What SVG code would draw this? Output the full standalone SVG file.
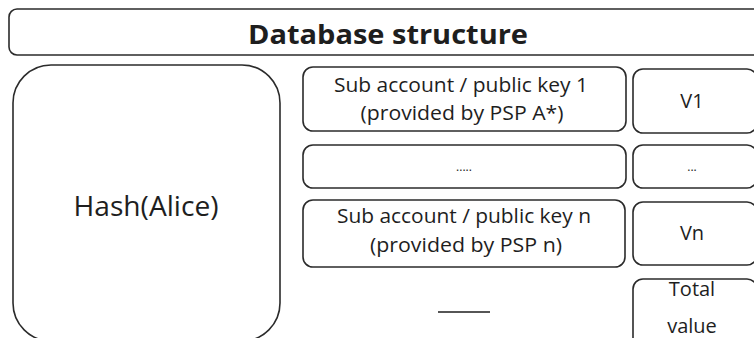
<svg xmlns="http://www.w3.org/2000/svg" width="754" height="338" viewBox="0 0 754 338">
  <style>
    .box { fill: #ffffff; stroke: #2b2b2b; stroke-width: 1.6; }
    .txt { font-family: "Open Sans", "Liberation Sans", sans-serif; fill: #1e1e1e; text-anchor: middle; }
    .title { font-weight: bold; font-size: 27px; }
    .lbl { font-size: 20px; }
    .big { font-size: 28px; }
    .dots { font-size: 12px; }
  </style>
  <rect width="754" height="338" fill="#ffffff"/>

  <g id="header">
    <rect class="box" x="9" y="9" width="760" height="46" rx="8"/>
    <text class="txt title" x="388" y="44" textLength="280" lengthAdjust="spacingAndGlyphs">Database structure</text>
  </g>

  <g id="hash-alice">
    <rect class="box" x="13" y="65" width="267" height="276" rx="38"/>
    <text class="txt big" x="146" y="216" textLength="145" lengthAdjust="spacingAndGlyphs">Hash(Alice)</text>
  </g>

  <g id="subaccount-1">
    <rect class="box" x="303" y="67" width="323" height="64" rx="10"/>
    <text class="txt lbl" x="461" y="92" textLength="254" lengthAdjust="spacingAndGlyphs">Sub account / public key 1</text>
    <text class="txt lbl" x="462" y="120" textLength="203" lengthAdjust="spacingAndGlyphs">(provided by PSP A*)</text>
  </g>
  <g id="value-1">
    <rect class="box" x="633" y="69" width="124" height="64" rx="10"/>
    <text class="txt lbl" x="692" y="108">V1</text>
  </g>

  <g id="subaccount-ellipsis">
    <rect class="box" x="303" y="145" width="323" height="43" rx="10"/>
    <text class="txt dots" x="464" y="171">.....</text>
  </g>
  <g id="value-ellipsis">
    <rect class="box" x="633" y="145" width="124" height="43" rx="10"/>
    <text class="txt dots" x="692" y="171">...</text>
  </g>

  <g id="subaccount-n">
    <rect class="box" x="303" y="200" width="322" height="67" rx="10"/>
    <text class="txt lbl" x="464" y="223" textLength="254" lengthAdjust="spacingAndGlyphs">Sub account / public key n</text>
    <text class="txt lbl" x="466" y="252" textLength="192" lengthAdjust="spacingAndGlyphs">(provided by PSP n)</text>
  </g>
  <g id="value-n">
    <rect class="box" x="633" y="202" width="124" height="63" rx="10"/>
    <text class="txt lbl" x="692" y="240">Vn</text>
  </g>

  <g id="total-value">
    <rect class="box" x="633" y="279" width="124" height="70" rx="10"/>
    <text class="txt lbl" x="692" y="296">Total</text>
    <text class="txt lbl" x="692" y="333">value</text>
  </g>

  <g id="connectors">
    <line x1="438" y1="312" x2="490" y2="312" stroke="#1e1e1e" stroke-width="1.6"/>
  </g>
</svg>
